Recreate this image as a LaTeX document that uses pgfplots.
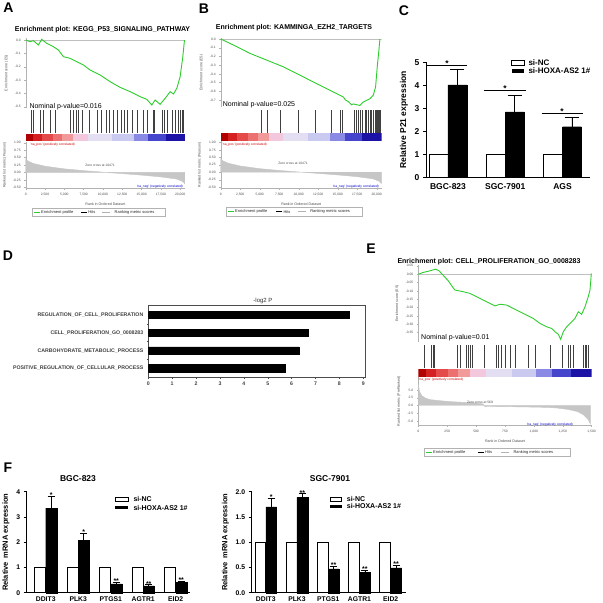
\documentclass[border=0pt]{standalone}
\usepackage{fontspec}
\setmainfont{Liberation Sans}
\usepackage{pgfplots}
\pgfplotsset{compat=1.18}

\definecolor{esgreen}{RGB}{45,205,45}
\definecolor{cb1}{HTML}{B00000}
\definecolor{cb2}{HTML}{D42020}
\definecolor{cb3}{HTML}{E44A4A}
\definecolor{cb4}{HTML}{EC7070}
\definecolor{cb5}{HTML}{F29A9A}
\definecolor{cb6}{HTML}{F3C8DC}
\definecolor{cb7}{HTML}{E4DEF2}
\definecolor{cb8}{HTML}{CACAF0}
\definecolor{cb9}{HTML}{8A8AE4}
\definecolor{cb10}{HTML}{4646CC}
\definecolor{cb11}{HTML}{1C12A6}

\newcommand{\fs}[1]{\fontsize{#1}{#1}\selectfont}

% colour bar blocks (fractions of the ranked list)
\newcommand{\cblock}[3]{\addplot[fill=#1,draw=none] coordinates {(#2,0)(#2,1)(#3,1)(#3,0)} --cycle;}
\newcommand{\gseabar}{%
  \cblock{cb1}{0}{0.045}
  \cblock{cb2}{0.045}{0.10}
  \cblock{cb3}{0.10}{0.17}
  \cblock{cb4}{0.17}{0.23}
  \cblock{cb5}{0.23}{0.30}
  \cblock{cb6}{0.30}{0.39}
  \cblock{cb7}{0.39}{0.54}
  \cblock{cb8}{0.54}{0.68}
  \cblock{cb9}{0.68}{0.77}
  \cblock{cb10}{0.77}{0.88}
  \cblock{cb11}{0.88}{1}}

\newcommand{\gsealeg}[3]{% left x, centre y, width
  \draw[gray!60, line width=0.3pt] (#1,#2-4.3) rectangle (#1+#3,#2+4.3);
  \draw[esgreen, line width=0.7pt] (#1+2,#2) -- (#1+8,#2);
  \node[anchor=west,font=\fs{4},inner sep=0,gray!30!black] at (#1+9,#2) {Enrichment profile};
  \draw[black, line width=0.5pt] (#1+0.37*#3,#2) -- (#1+0.37*#3+6,#2);
  \node[anchor=west,font=\fs{4},inner sep=0,gray!30!black] at (#1+0.37*#3+7,#2) {Hits};
  \draw[gray!60, line width=0.8pt] (#1+0.53*#3,#2) -- (#1+0.53*#3+8,#2);
  \node[anchor=west,font=\fs{4},inner sep=0,gray!30!black] at (#1+0.53*#3+12,#2) {Ranking metric scores};}

\pgfplotsset{
  every axis/.append style={scale only axis, /pgf/number format/assume math mode=true},
  gbase/.style={xmin=0, xmax=#1, scaled ticks=false,
    axis line style={gray!60, line width=0.3pt},
    every tick/.style={gray!60, line width=0.3pt},
    major tick length=1.5pt, tick align=outside,
    tick label style={font=\fs{3.3}, color=gray!60!black},
    label style={font=\fs{3.6}, color=gray!60!black}},
  esax/.style={gbase=#1, axis x line=none, axis y line*=left, xtick=\empty,
    ylabel={Enrichment score (ES)}},
  hitax/.style={xmin=0, xmax=#1, ymin=0, ymax=1, hide axis},
  cbax/.style={xmin=0, xmax=1, ymin=0, ymax=1, hide axis},
  rkax/.style={gbase=#1, axis x line*=bottom, axis y line*=left,
    xlabel={Rank in Ordered Dataset}},
  prism/.style={axis x line*=bottom, axis y line*=left, clip=false,
    axis line style={line width=0.9pt},
    every tick/.style={black, line width=0.9pt},
    major tick length=3pt, tick align=outside,
    every x tick/.style={draw=none}},
}

\begin{document}
\begin{tikzpicture}
\fill[white] (0,0) rectangle (603pt,-603pt);
\useasboundingbox (0,0) rectangle (603pt,-603pt);

%%%%%%%%%%%%%%%% A
\begin{axis}[esax=20620, at={(25.7pt,-38pt)}, anchor=north west, width=159.3pt, height=70pt,
  ymin=-0.51, ymax=0.015, ytick={0,-0.1,-0.2,-0.3,-0.4,-0.5},
  yticklabel style={/pgf/number format/.cd,fixed,fixed zerofill,precision=1}]
\addplot[gray!50, line width=0.3pt] coordinates {(0,0)(20620,0)};
\addplot[esgreen, line width=0.9pt] coordinates {(0,0)(561,-0.0125)(993,-0.005)(1641,-0.0375)(2073,0.005)(2720,-0.025)(3152,-0.0375)(3584,-0.05)(4232,-0.075)(4879,-0.125)(5743,-0.1375)(6607,-0.1625)(7470,-0.1875)(8334,-0.225)(9629,-0.2625)(10925,-0.3125)(12220,-0.355)(13515,-0.3875)(14811,-0.425)(15674,-0.445)(16322,-0.4875)(16754,-0.45)(17401,-0.4825)(18049,-0.4375)(18697,-0.3875)(19128,-0.405)(19560,-0.3625)(19992,-0.275)(20338,-0.125)(20554,0)};
\end{axis}
\begin{axis}[hitax=20620, at={(25.7pt,-110pt)}, anchor=north west, width=159.3pt, height=23pt]
\addplot[ycomb, black!75, line width=0.35pt, mark=none] coordinates {(648,1)(993,1)(1857,1)(2202,1)(3152,1)(3800,1)(5743,1)(6088,1)(6520,1)(6822,1)(7254,1)(8247,1)(9197,1)(9716,1)(10407,1)(10838,1)(11270,1)(11788,1)(12306,1)(12738,1)(13170,1)(13731,1)(14465,1)(15156,1)(15674,1)(16538,1)(16624,1)(17617,1)(17920,1)(18265,1)(18913,1)(19344,1)(19776,1)(19992,1)(20208,1)(20338,1)(20424,1)};
\end{axis}
\begin{axis}[cbax, at={(25.7pt,-133.5pt)}, anchor=north west, width=159.3pt, height=7.5pt]
\gseabar
\end{axis}
\begin{axis}[rkax=20620, at={(25.7pt,-141.5pt)}, anchor=north west, width=159.3pt, height=47pt,
  ymin=-0.54, ymax=1.04, ytick={-0.5,-0.25,0,0.25,0.5,0.75,1},
  xtick={0,2500,5000,7500,10000,12500,15000,17500,20000},
  yticklabel style={/pgf/number format/.cd,fixed,fixed zerofill,precision=2},
  ylabel={Ranked list metric (Pearson)}]
\addplot[fill=gray!45, draw=gray!45] coordinates {(0,0.45)(300,0.38)(1000,0.3)(2500,0.21)(5000,0.12)(7500,0.06)(10471,0)(12500,-0.04)(15000,-0.09)(17500,-0.15)(19500,-0.22)(20300,-0.3)(20600,-0.38)} \closedcycle;
\end{axis}

%%%%%%%%%%%%%%%% B
\begin{axis}[esax=20640, at={(220.7pt,-38pt)}, anchor=north west, width=161pt, height=69pt,
  ymin=-0.78, ymax=0.0115, ytick={0,-0.1,-0.2,-0.3,-0.4,-0.5,-0.6,-0.7},
  yticklabel style={/pgf/number format/.cd,fixed,fixed zerofill,precision=1}]
\addplot[gray!50, line width=0.3pt] coordinates {(0,0)(20640,0)};
\addplot[esgreen, line width=0.9pt] coordinates {(0,0)(1623,-0.069)(3758,-0.165)(5893,-0.242)(8028,-0.319)(10163,-0.415)(12298,-0.512)(14433,-0.608)(15714,-0.665)(16000,-0.70)(16400,-0.72)(16781,-0.755)(17000,-0.745)(17422,-0.754)(17849,-0.762)(18276,-0.723)(18703,-0.704)(19130,-0.685)(19557,-0.646)(19856,-0.55)(20069,-0.319)(20283,-0.127)(20411,0)};
\end{axis}
\begin{axis}[hitax=20640, at={(220.7pt,-110pt)}, anchor=north west, width=161pt, height=23pt]
\addplot[ycomb, black!75, line width=0.35pt, mark=none] coordinates {(5252,1)(5978,1)(7601,1)(9949,1)(12084,1)(14219,1)(15372,1)(15628,1)(17080,1)(17336,1)(17635,1)(17849,1)(18148,1)(18489,1)(18703,1)(18916,1)(19130,1)(19344,1)(19557,1)(19770,1)(19898,1)(20069,1)(20197,1)(20325,1)(20411,1)};
\end{axis}
\begin{axis}[cbax, at={(220.7pt,-133.3pt)}, anchor=north west, width=161pt, height=7.5pt]
\gseabar
\end{axis}
\begin{axis}[rkax=20640, at={(220.7pt,-141.3pt)}, anchor=north west, width=161pt, height=47pt,
  ymin=-0.54, ymax=1.04, ytick={-0.5,-0.25,0,0.25,0.5,0.75,1},
  xtick={0,2500,5000,7500,10000,12500,15000,17500,20000},
  yticklabel style={/pgf/number format/.cd,fixed,fixed zerofill,precision=2},
  ylabel={Ranked list metric (Pearson)}]
\addplot[fill=gray!45, draw=gray!45] coordinates {(0,0.45)(300,0.38)(1000,0.3)(2500,0.21)(5000,0.12)(7500,0.06)(10471,0)(12500,-0.04)(15000,-0.09)(17500,-0.15)(19500,-0.22)(20300,-0.3)(20600,-0.38)} \closedcycle;
\end{axis}

%%%%%%%%%%%%%%%% C
\begin{axis}[prism, at={(426pt,-62.3pt)}, anchor=north west, width=164pt, height=115pt,
  xmin=-0.384, xmax=2.48, ymin=0, ymax=5, ytick={0,1,2,3,4,5},
  xtick={0,1,2}, xticklabels={BGC-823,SGC-7901,AGS},
  tick label style={font=\fs{8.5}\bfseries},
  ylabel={Relative P21 expression}, ylabel style={font=\fs{8.5}\bfseries},
  bar width=0.33]
\addplot[ybar, bar shift=0, fill=white, draw=black, line width=0.7pt] coordinates {(-0.165,1)(0.835,1)(1.835,1)};
\addplot[ybar, bar shift=0, fill=black, draw=black,
  error bars/.cd, y dir=plus, y explicit, error bar style={line width=0.9pt},
  error mark options={rotate=90, line width=0.9pt, mark size=7pt}]
  coordinates {(0.165,4.02) +- (0,0.69) (1.165,2.85) +- (0,0.72) (2.165,2.2) +- (0,0.41)};
\draw[line width=0.9pt] (axis cs:-0.36,4.86) -- (axis cs:0.33,4.86);
\draw[line width=0.9pt] (axis cs:0.63,3.77) -- (axis cs:1.36,3.77);
\draw[line width=0.9pt] (axis cs:1.635,2.78) -- (axis cs:2.35,2.78);
\node[anchor=south, inner sep=0, yshift=-1pt, font=\fs{8.5}\bfseries] at (axis cs:-0.015,4.86) {*};
\node[anchor=south, inner sep=0, yshift=-1pt, font=\fs{8.5}\bfseries] at (axis cs:0.995,3.77) {*};
\node[anchor=south, inner sep=0, yshift=-1pt, font=\fs{8.5}\bfseries] at (axis cs:1.99,2.78) {*};
\end{axis}

%%%%%%%%%%%%%%%% D
\begin{axis}[at={(148.3pt,-305pt)}, anchor=north west, width=216.7pt, height=72.3pt,
  xmin=0, xmax=9.07, ymin=-0.507, ymax=3.563, xbar, bar width=0.41,
  xtick={0,1,...,9}, ytick={0,1,2,3},
  yticklabels={POSITIVE\_REGULATION\_OF\_CELLULAR\_PROCESS,CARBOHYDRATE\_METABOLIC\_PROCESS,CELL\_PROLIFERATION\_GO\_0008283,REGULATION\_OF\_CELL\_PROLIFERATION},
  minor ytick={0.5,1.5,2.5}, xtick pos=left, ytick pos=left,
  tick align=outside, major tick length=1.5pt, minor tick length=1.5pt,
  every major y tick/.style={draw=none},
  axis line style={line width=0.4pt, black!70}, every tick/.style={black!70, line width=0.4pt},
  tick label style={font=\fs{5.2}\bfseries, color=black!75}]
\addplot[fill=black, draw=black] coordinates {(5.75,0)(6.3,1)(6.68,2)(8.42,3)};
\end{axis}

%%%%%%%%%%%%%%%% E
\begin{axis}[esax=1500, at={(418.3pt,-265pt)}, anchor=north west, width=173.3pt, height=76.8pt,
  ymin=-0.405, ymax=0.055, ytick={0.05,0,-0.05,-0.1,-0.15,-0.2,-0.25,-0.3,-0.35},
  yticklabel style={/pgf/number format/.cd,fixed,fixed zerofill,precision=2}]
\addplot[gray!50, line width=0.3pt] coordinates {(0,0)(1500,0)};
\addplot[esgreen, line width=0.9pt] coordinates {(0,0)(40,0.01)(100,0.02)(150,0.03)(180,0.02)(220,-0.01)(260,-0.04)(300,-0.08)(317,-0.095)(389,-0.105)(447,-0.115)(505,-0.135)(563,-0.155)(620,-0.175)(664,-0.19)(707,-0.18)(765,-0.185)(822,-0.205)(880,-0.225)(938,-0.245)(995,-0.265)(1053,-0.295)(1111,-0.315)(1154,-0.325)(1183,-0.345)(1212,-0.36)(1232,-0.39)(1255,-0.345)(1284,-0.315)(1313,-0.295)(1356,-0.265)(1385,-0.225)(1414,-0.24)(1443,-0.195)(1471,-0.135)(1486,-0.095)(1494,-0.03)(1497,0.005)};
\end{axis}
\begin{axis}[hitax=1500, at={(418.3pt,-345pt)}, anchor=north west, width=173.3pt, height=23pt]
\addplot[ycomb, black!75, line width=0.35pt, mark=none] coordinates {(52,1)(110,1)(130,1)(138,1)(338,1)(361,1)(418,1)(433,1)(447,1)(462,1)(571,1)(672,1)(692,1)(721,1)(750,1)(799,1)(840,1)(949,1)(1010,1)(1140,1)(1241,1)(1249,1)(1298,1)(1313,1)(1342,1)(1423,1)(1443,1)(1457,1)(1471,1)};
\end{axis}
\begin{axis}[cbax, at={(418.3pt,-369pt)}, anchor=north west, width=173.3pt, height=7.5pt]
\gseabar
\end{axis}
\begin{axis}[rkax=1500, at={(418.3pt,-377pt)}, anchor=north west, width=173.3pt, height=48pt,
  ymin=-6.3, ymax=9.2, ytick={-5,-2.5,0,2.5,5},
  xtick={0,250,500,750,1000,1250,1500},
  yticklabel style={/pgf/number format/.cd,fixed,fixed zerofill,precision=1},
  ylabel={Ranked list metric (PreRanked)}]
\addplot[fill=gray!45, draw=gray!45] coordinates {(0,7)(10,4.5)(30,3.2)(60,2.4)(100,1.9)(200,1.5)(300,1.2)(400,1.0)(500,0.8)(560,0.5)(569,0)(575,-0.3)(700,-0.35)(900,-0.45)(1100,-0.6)(1200,-0.8)(1300,-1.3)(1380,-2)(1430,-3)(1470,-4.5)(1490,-6)} \closedcycle;
\end{axis}

%%%%%%%%%%%%%%%% F left
\begin{axis}[prism, at={(26.7pt,-491.7pt)}, anchor=north west, width=163.3pt, height=101pt,
  xmin=-0.585, xmax=4.44, ymin=0, ymax=4, ytick={0,1,2,3,4},
  xtick={0,1,2,3,4}, xticklabels={DDIT3,PLK3,PTGS1,AGTR1,EID2},
  tick label style={font=\fs{6.8}\bfseries}, xticklabel style={yshift=2.2pt},
  ylabel={Relative\enspace mRNA expression}, ylabel style={font=\fs{7.5}\bfseries},
  bar width=0.34]
\addplot[ybar, bar shift=0, fill=white, draw=black, line width=0.6pt] coordinates {(-0.17,1)(0.83,1)(1.83,1)(2.83,1)(3.83,1)};
\addplot[ybar, bar shift=0, fill=black, draw=black,
  error bars/.cd, y dir=plus, y explicit, error bar style={line width=0.8pt},
  error mark options={rotate=90, line width=0.8pt, mark size=3.5pt}]
  coordinates {(0.17,3.35) +- (0,0.48) (1.17,2.08) +- (0,0.28) (2.17,0.35) +- (0,0.05) (3.17,0.27) +- (0,0.04) (4.17,0.4) +- (0,0.05)};
\node[anchor=south, inner sep=0, yshift=-1.5pt, font=\fs{7}\bfseries] at (axis cs:0.17,3.83) {*};
\node[anchor=south, inner sep=0, yshift=-1.5pt, font=\fs{7}\bfseries] at (axis cs:1.17,2.36) {*};
\node[anchor=south, inner sep=0, yshift=-1.5pt, font=\fs{7}\bfseries] at (axis cs:2.17,0.40) {**};
\node[anchor=south, inner sep=0, yshift=-1.5pt, font=\fs{7}\bfseries] at (axis cs:3.17,0.31) {**};
\node[anchor=south, inner sep=0, yshift=-1.5pt, font=\fs{7}\bfseries] at (axis cs:4.17,0.45) {**};
\end{axis}

%%%%%%%%%%%%%%%% F right
\begin{axis}[prism, at={(251.7pt,-491.7pt)}, anchor=north west, width=154.3pt, height=101pt,
  xmin=-0.45, xmax=4.49, ymin=0, ymax=2, ytick={0,0.5,1,1.5,2},
  yticklabel style={/pgf/number format/.cd,fixed,fixed zerofill,precision=1},
  xtick={0,1,2,3,4}, xticklabels={DDIT3,PLK3,PTGS1,AGTR1,EID2},
  tick label style={font=\fs{6.8}\bfseries}, xticklabel style={yshift=2.2pt},
  ylabel={Relative\enspace mRNA expression}, ylabel style={font=\fs{7.5}\bfseries},
  bar width=0.35]
\addplot[ybar, bar shift=0, fill=white, draw=black, line width=0.6pt] coordinates {(-0.175,1)(0.825,1)(1.825,1)(2.825,1)(3.825,1)};
\addplot[ybar, bar shift=0, fill=black, draw=black,
  error bars/.cd, y dir=plus, y explicit, error bar style={line width=0.8pt},
  error mark options={rotate=90, line width=0.8pt, mark size=3.5pt}]
  coordinates {(0.175,1.70) +- (0,0.17) (1.175,1.89) +- (0,0.07) (2.175,0.47) +- (0,0.05) (3.175,0.405) +- (0,0.045) (4.175,0.49) +- (0,0.05)};
\node[anchor=south, inner sep=0, yshift=-1.5pt, font=\fs{7}\bfseries] at (axis cs:0.175,1.87) {*};
\node[anchor=south, inner sep=0, yshift=-1.5pt, font=\fs{7}\bfseries] at (axis cs:1.175,1.96) {**};
\node[anchor=south, inner sep=0, yshift=-1.5pt, font=\fs{7}\bfseries] at (axis cs:2.175,0.52) {**};
\node[anchor=south, inner sep=0, yshift=-1.5pt, font=\fs{7}\bfseries] at (axis cs:3.175,0.45) {**};
\node[anchor=south, inner sep=0, yshift=-1.5pt, font=\fs{7}\bfseries] at (axis cs:4.175,0.54) {**};
\end{axis}

%%%%%%%%%%%%%%%% annotations (pixel coordinates, y down)
\begin{scope}[x=1pt,y=-1pt]
\foreach \l/\x/\y in {A/8.5/8, B/204/9, C/404/11, D/8/255.5, E/371/249, F/8/468}
  \node[font=\fs{14}\bfseries] at (\x,\y) {\l};
% GSEA titles and texts
\node[font=\fs{7}\bfseries] at (102.5,29.3) {Enrichment plot: KEGG\_P53\_SIGNALING\_PATHWAY};
\node[font=\fs{7}\bfseries] at (294,27.7) {Enrichment plot: KAMMINGA\_EZH2\_TARGETS};
\node[font=\fs{7}\bfseries] at (489,262) {Enrichment plot: CELL\_PROLIFERATION\_GO\_0008283};
\node[font=\fs{7}, anchor=west, inner sep=0] at (29.3,106.7) {Nominal p-value=0.016};
\node[font=\fs{7}, anchor=west, inner sep=0] at (222.7,105) {Nominal p-value=0.025};
\node[font=\fs{7}, anchor=west, inner sep=0] at (421,337.7) {Nominal p-value=0.01};
\node[font=\fs{3.3}, red!80!black, anchor=west, inner sep=0] at (30,144.5) {'na\_pos' (positively correlated)};
\node[font=\fs{3.3}, blue!80!black, anchor=east, inner sep=0] at (183,186.5) {'na\_neg' (negatively correlated)};
\node[font=\fs{3.3}, black!70, inner sep=0.4pt, fill=white] at (100,165) {Zero cross at 10471};
\node[font=\fs{3.3}, red!80!black, anchor=west, inner sep=0] at (222,144.5) {'na\_pos' (positively correlated)};
\node[font=\fs{3.3}, blue!80!black, anchor=east, inner sep=0] at (379,186.5) {'na\_neg' (negatively correlated)};
\node[font=\fs{3.3}, black!70, inner sep=0.4pt, fill=white] at (293,163) {Zero cross at 10471};
\node[font=\fs{3.3}, red!80!black, anchor=west, inner sep=0] at (418.5,379.5) {'na\_pos' (positively correlated)};
\node[font=\fs{3.3}, blue!80!black, anchor=east, inner sep=0] at (573,425) {'na\_neg' (negatively correlated)};
\node[font=\fs{3.3}, black!70, inner sep=0.4pt] at (480,402.7) {Zero cross at 569};
\gsealeg{32}{212}{133}
\gsealeg{226}{211.7}{136}
\gsealeg{424}{452.3}{146}
% D title
\node[font=\fs{6}, black!80] at (263,301) {-log2 P};
% C legend
\draw[line width=0.6pt, fill=white] (511.7,60.5) rectangle (524,65);
\fill[black] (511.7,68.8) rectangle (524,73.3);
\node[font=\fs{8}\bfseries, anchor=west, inner sep=0] at (528.3,62.7) {si-NC};
\node[font=\fs{8}\bfseries, anchor=west, inner sep=0] at (528.3,71) {si-HOXA-AS2 1\#};
% F titles and legends
\node[font=\fs{8.5}\bfseries] at (78,479) {BGC-823};
\node[font=\fs{8.5}\bfseries] at (330,479) {SGC-7901};
\draw[line width=0.5pt, fill=white] (115,497.5) rectangle (128.3,501.2);
\fill[black] (115,505.8) rectangle (128.3,509.4);
\node[font=\fs{7}\bfseries, anchor=west, inner sep=0] at (133.3,499.3) {si-NC};
\node[font=\fs{7}\bfseries, anchor=west, inner sep=0] at (133.3,507.6) {si-HOXA-AS2 1\#};
\draw[line width=0.5pt, fill=white] (330,497.3) rectangle (341.7,501);
\fill[black] (330,504.5) rectangle (341.7,508);
\node[font=\fs{7}\bfseries, anchor=west, inner sep=0] at (346.7,499.1) {si-NC};
\node[font=\fs{7}\bfseries, anchor=west, inner sep=0] at (346.7,506.3) {si-HOXA-AS2 1\#};
\end{scope}
\end{tikzpicture}
\end{document}
